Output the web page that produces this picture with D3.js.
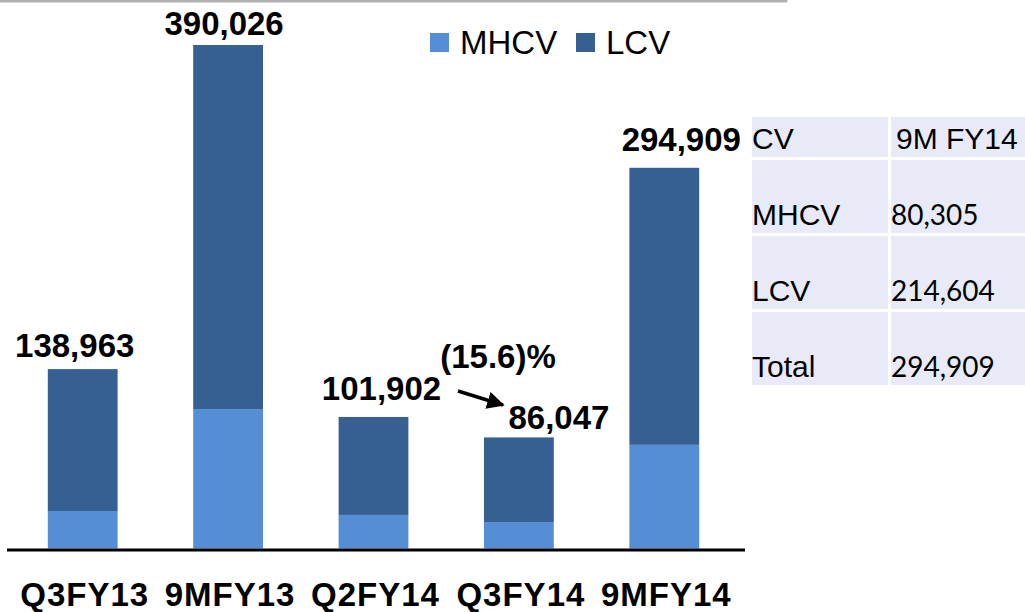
<!DOCTYPE html>
<html lang="en">
<head>
  <meta charset="UTF-8">
  <title>CV volumes</title>
  <style>
    body { margin: 0; background: #fff; }
    svg { display: block; }
    .total { font-family: "Liberation Sans", Arial, sans-serif; font-weight: bold; font-size: 33px; fill: #000; }
    .cat { font-family: "Liberation Sans", Arial, sans-serif; font-weight: bold; font-size: 33px; letter-spacing: 1px; fill: #000; }
    .legend text { font-family: "Liberation Sans", Arial, sans-serif; font-size: 33px; fill: #000; }
    .tbl-head { font-family: "Liberation Sans", Arial, sans-serif; font-size: 30px; fill: #000; }
    .tbl-num { font-family: Lato, "Open Sans", sans-serif; font-size: 28px; fill: #000; }
  </style>
</head>
<body>
  <svg id="chart"></svg>
  <script src="https://cdnjs.cloudflare.com/ajax/libs/d3/7.8.5/d3.min.js"></script>
  <script>
    // data
    const categories = ["Q3FY13", "9MFY13", "Q2FY14", "Q3FY14", "9MFY14"];
    const mhcv = [29000, 108000, 26000, 20500, 80305];
    const lcv = [109963, 282026, 75902, 65547, 214604];
    const seriesNames = ["MHCV", "LCV"];
    const growthLabel = "(15.6)%";
    const tableRows = [["CV", "9M FY14"], ["MHCV", "80,305"], ["LCV", "214,604"], ["Total", "294,909"]];

    const colors = { MHCV: "#558ed5", LCV: "#376092" };

    const W = 1025, H = 612;
    const svg = d3.select("#chart").attr("width", W).attr("height", H);

    const rows = categories.map((c, i) => ({ cat: c, MHCV: mhcv[i], LCV: lcv[i] }));
    const stacked = d3.stack().keys(seriesNames)(rows);
    const totals = rows.map(r => r.MHCV + r.LCV);

    const x = d3.scaleBand().domain(categories).range([10, 737]).paddingInner(0.52).paddingOuter(0.26);
    const y = d3.scaleLinear().domain([0, d3.max(totals)]).range([548.5, 45]);

    // top grey rule
    svg.append("line")
      .attr("x1", 0).attr("x2", 786).attr("y1", 1).attr("y2", 1)
      .attr("stroke", "#b0b0b0").attr("stroke-width", 3).attr("stroke-linecap", "round");

    // bars
    svg.selectAll(".series")
      .data(stacked)
      .enter().append("g")
      .attr("class", "series")
      .attr("fill", d => colors[d.key])
      .selectAll("rect")
      .data(d => d)
      .enter().append("rect")
      .attr("x", d => x(d.data.cat))
      .attr("y", d => y(d[1]))
      .attr("width", x.bandwidth())
      .attr("height", d => y(d[0]) - y(d[1]));

    // baseline
    svg.append("line")
      .attr("x1", 7).attr("x2", 745).attr("y1", 550).attr("y2", 550)
      .attr("stroke", "#000").attr("stroke-width", 3);

    // category labels
    svg.selectAll(".cat")
      .data(categories)
      .enter().append("text")
      .attr("class", "cat")
      .attr("x", d => x(d) + x.bandwidth() / 2 + 2)
      .attr("y", 606)
      .attr("text-anchor", "middle")
      .text(d => d);

    // total labels (a few are nudged as in the slide)
    const shiftX = [-8, -4, 8, 40, 17];
    const shiftY = [-12, -10, -17, -8, -17];
    svg.selectAll(".total")
      .data(totals)
      .enter().append("text")
      .attr("class", "total")
      .attr("x", (d, i) => x(categories[i]) + x.bandwidth() / 2 + shiftX[i])
      .attr("y", (d, i) => y(d) + shiftY[i])
      .attr("text-anchor", "middle")
      .text(d => d3.format(",")(d));

    // growth note and arrow
    svg.append("text")
      .attr("class", "total")
      .attr("x", 498).attr("y", 368)
      .attr("text-anchor", "middle")
      .text(growthLabel);

    svg.append("defs").append("marker")
      .attr("id", "arrow")
      .attr("viewBox", "0 0 10 10")
      .attr("refX", 9).attr("refY", 5)
      .attr("markerWidth", 5).attr("markerHeight", 5)
      .attr("orient", "auto")
      .append("path")
      .attr("d", "M0,0 L10,5 L0,10 z")
      .attr("fill", "#000");

    svg.append("line")
      .attr("x1", 458).attr("y1", 391).attr("x2", 503).attr("y2", 405)
      .attr("stroke", "#000").attr("stroke-width", 3.5)
      .attr("marker-end", "url(#arrow)");

    // legend
    const legend = svg.append("g").attr("class", "legend");
    const legendX = [430, 576];
    seriesNames.forEach((s, i) => {
      legend.append("rect")
        .attr("x", legendX[i]).attr("y", 33)
        .attr("width", 19).attr("height", 19)
        .attr("fill", colors[s]);
      legend.append("text")
        .attr("x", legendX[i] + 30).attr("y", 54)
        .text(s);
    });

    // side table
    const colX = [752, 891];
    const colW = [136, 134];
    const rowY = [117, 160, 236, 312];
    const rowH = [40, 73, 73, 73];
    const table = svg.append("g").attr("class", "table");
    tableRows.forEach((r, ri) => {
      r.forEach((cell, ci) => {
        table.append("rect")
          .attr("x", colX[ci]).attr("y", rowY[ri])
          .attr("width", colW[ci]).attr("height", rowH[ri])
          .attr("fill", "#e8ebf7");
        table.append("text")
          .attr("class", ri === 0 || ci === 0 ? "tbl-head" : "tbl-num")
          .attr("x", colX[ci] + (ri === 0 && ci === 1 ? 5 : 0))
          .attr("y", rowY[ri] + rowH[ri] - 8)
          .text(cell);
      });
    });
  </script>
</body>
</html>
